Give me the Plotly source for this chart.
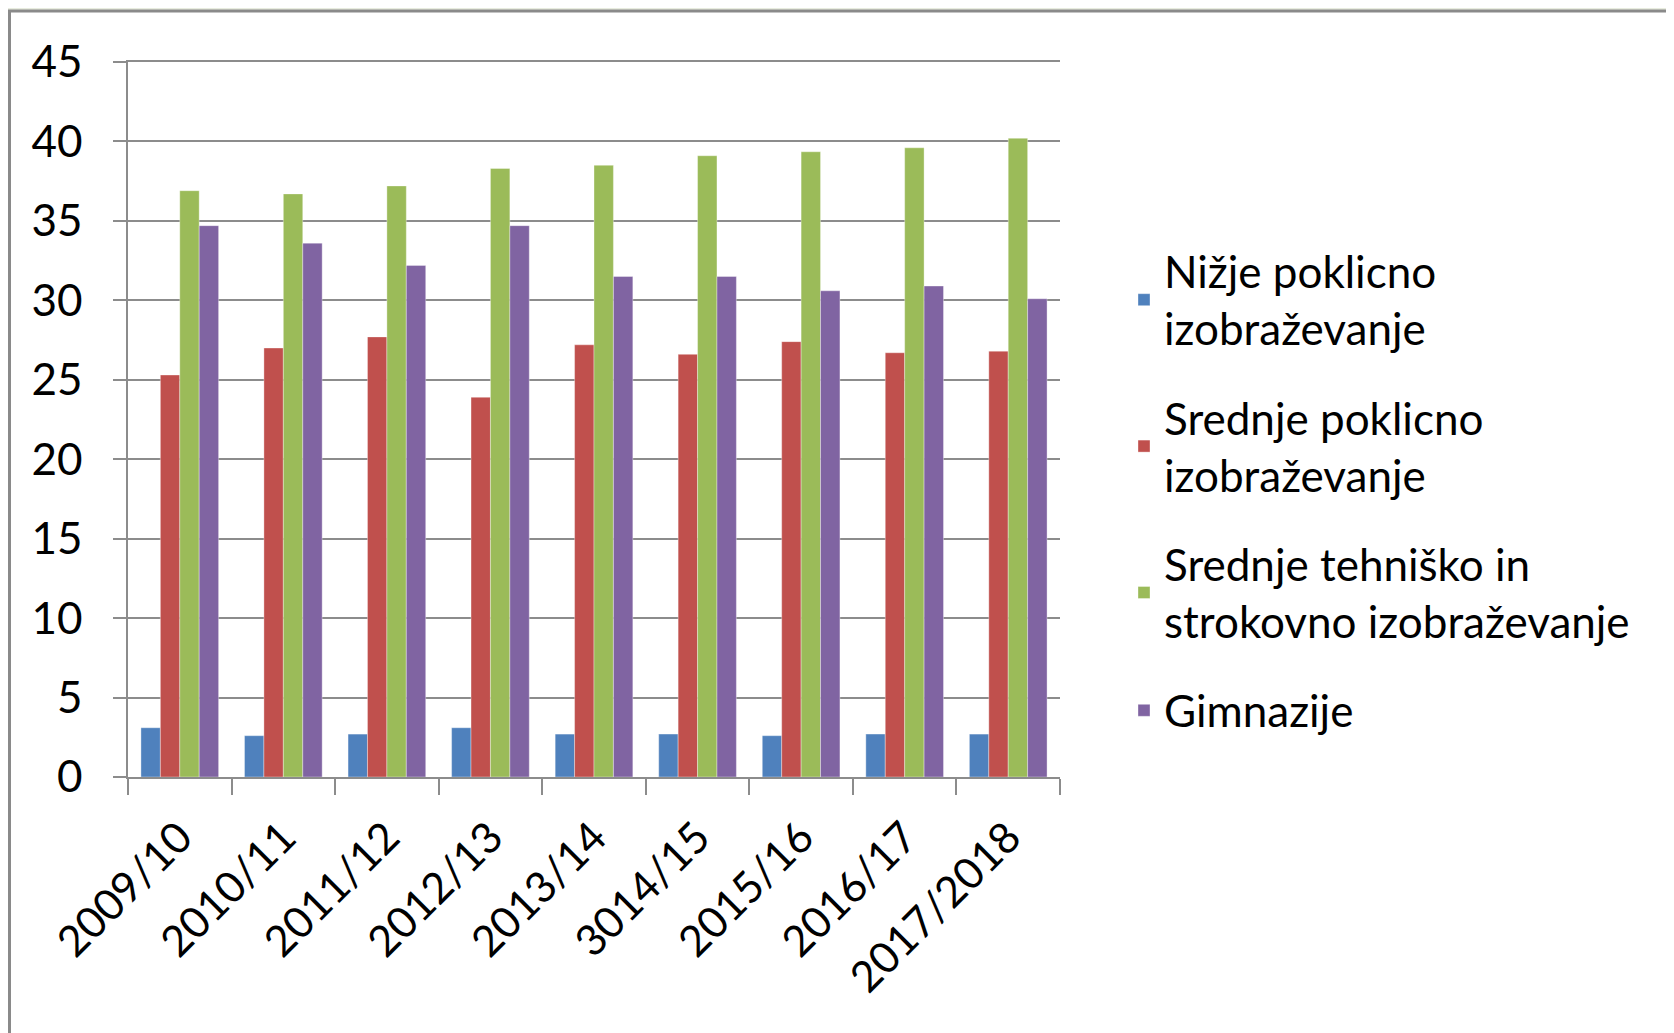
import plotly.graph_objects as go

categories = ["2009/10", "2010/11", "2011/12", "2012/13", "2013/14",
              "3014/15", "2015/16", "2016/17", "2017/2018"]

nizje_poklicno = [3.1, 2.6, 2.7, 3.1, 2.7, 2.7, 2.6, 2.7, 2.7]
srednje_poklicno = [25.3, 27.0, 27.7, 23.9, 27.2, 26.6, 27.4, 26.7, 26.8]
srednje_tehnisko = [36.9, 36.7, 37.2, 38.3, 38.5, 39.1, 39.35, 39.6, 40.2]
gimnazije = [34.7, 33.6, 32.2, 34.7, 31.5, 31.5, 30.6, 30.9, 30.1]

series_names = ["Nižje poklicno<br>izobraževanje",
                "Srednje poklicno<br>izobraževanje",
                "Srednje tehniško in<br>strokovno izobraževanje",
                "Gimnazije"]
series_values = [nizje_poklicno, srednje_poklicno, srednje_tehnisko, gimnazije]
colors = ["#4F81BD", "#C0504D", "#9BBB59", "#8064A2"]

FONT = "Lato"
# page has an 8px body margin, so the figure is 8px smaller than the window
W, H = 1666, 1025
L, R, T, B = 120, 614, 54, 256

fig = go.Figure()
for i, (name, vals, col) in enumerate(zip(series_names, series_values, colors)):
    fig.add_trace(go.Bar(
        x=categories, y=vals, name=name, legendgroup=f"g{i}",
        marker=dict(color=col, line=dict(color="rgba(255,255,255,0.35)", width=1)),
    ))

pw = W - L - R
ph = H - T - B
def px(x):
    return (x - L) / pw
def py(y):
    return (H - B - y) / ph

fig.update_layout(
    width=W, height=H,
    margin=dict(l=L, r=R, t=T, b=B),
    paper_bgcolor="#E8ECDF",
    plot_bgcolor="white",
    barmode="group",
    bargap=0.25,
    bargroupgap=0,
    font=dict(family=FONT, size=44, color="black"),
    showlegend=True,
    legend=dict(
        x=px(1116), xanchor="left",
        y=py(228), yanchor="top",
        font=dict(family=FONT, size=44, color="black"),
        bgcolor="rgba(0,0,0,0)",
        itemwidth=30,
        tracegroupgap=29,
    ),
    shapes=[dict(
        type="rect", xref="paper", yref="paper",
        x0=px(1.5), x1=px(1700), y0=py(1050), y1=py(3),
        line=dict(color="#8A8A8A", width=3),
        fillcolor="white", layer="below",
    )],
)

fig.update_xaxes(
    type="category",
    tickangle=-45,
    showline=True, linecolor="#8C8C8C", linewidth=1.5, mirror=True,
    ticks="outside", tickson="boundaries", ticklen=16,
    tickcolor="#8C8C8C", tickwidth=1.5,
    showgrid=False,
    ticklabelstandoff=16,
    tickfont=dict(family=FONT, size=43, color="black"),
)
fig.update_yaxes(
    range=[0, 45], dtick=5,
    showline=True, linecolor="#8C8C8C", linewidth=1.5,
    ticks="outside", ticklen=13, tickcolor="#8C8C8C", tickwidth=1.5,
    showgrid=True, gridcolor="#8C8C8C", gridwidth=1.5,
    zeroline=False,
    ticklabelstandoff=22,
    tickfont=dict(family=FONT, size=44, color="black"),
)

fig.write_html("out.html")
